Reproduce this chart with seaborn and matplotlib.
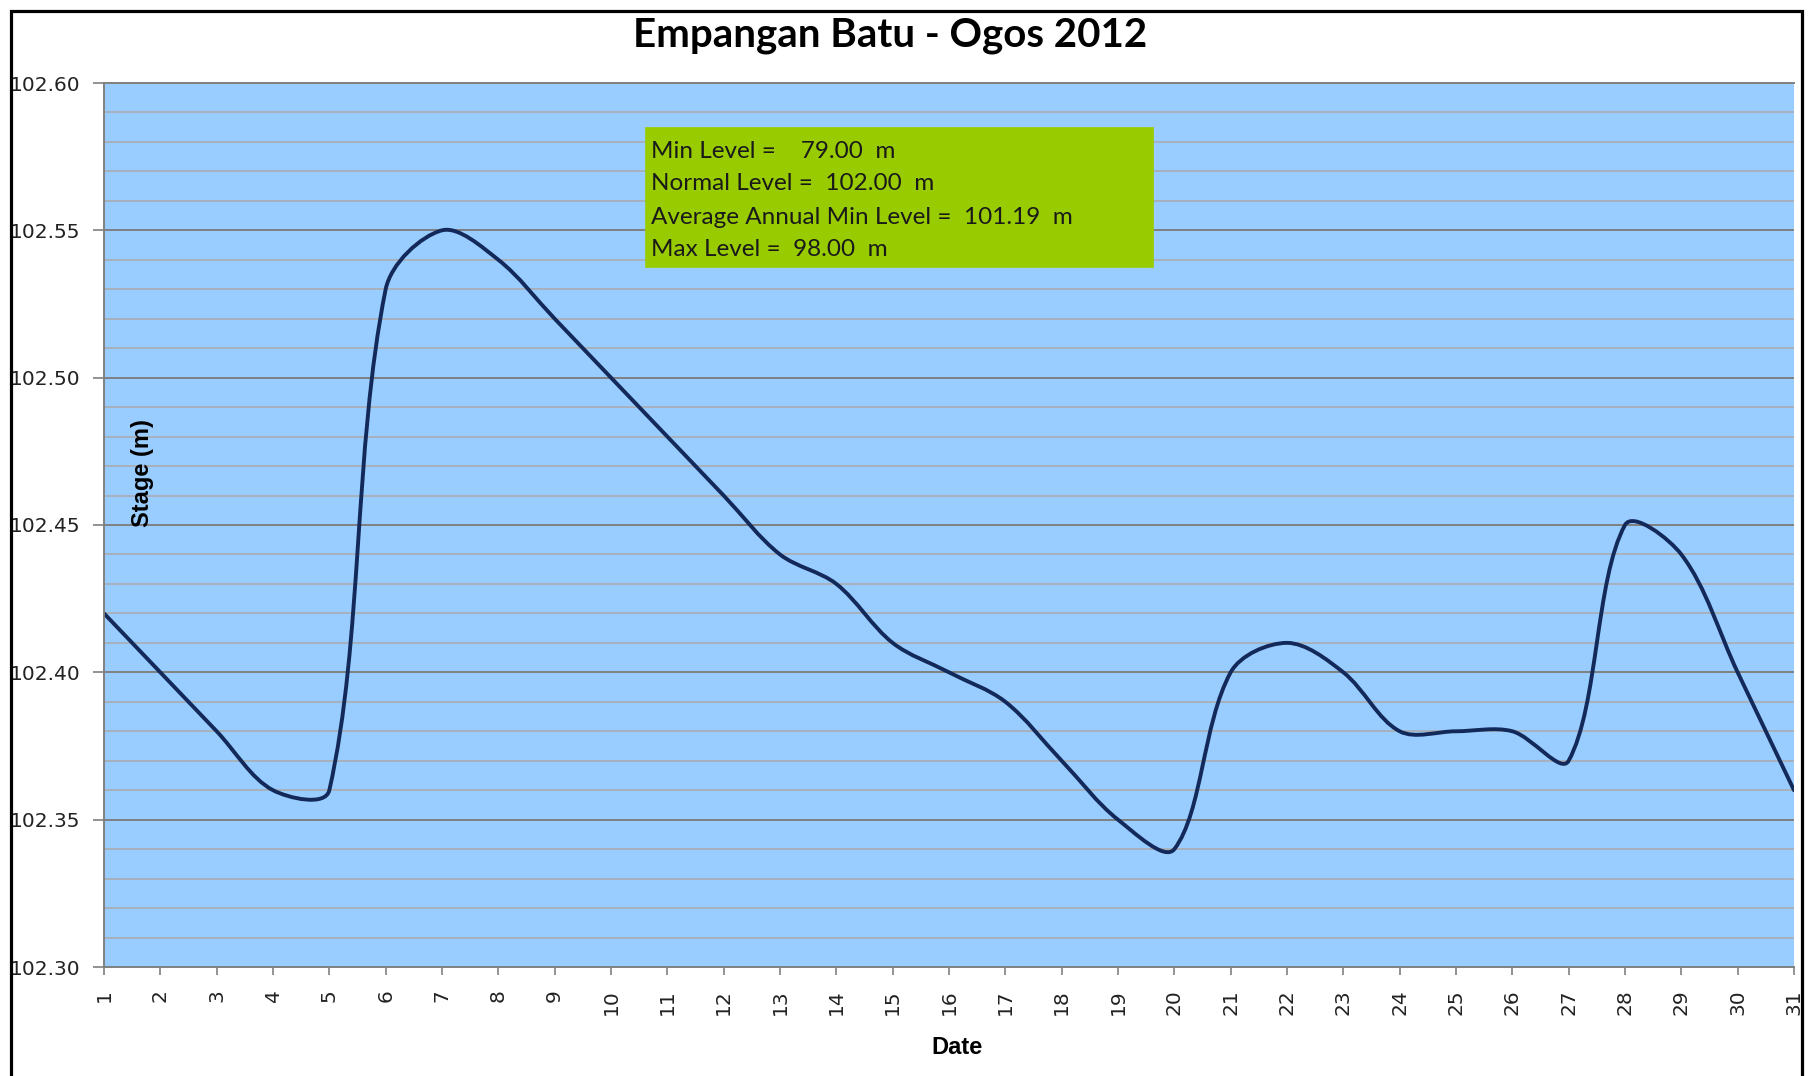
import numpy as np
import matplotlib
matplotlib.use("Agg")
import matplotlib.pyplot as plt
from matplotlib.path import Path
from matplotlib.patches import PathPatch, Rectangle
import seaborn as sns

# data
days = list(range(1, 32))
stage = [102.42, 102.40, 102.38, 102.36, 102.36, 102.53, 102.55, 102.54, 102.52, 102.50,
         102.48, 102.46, 102.44, 102.43, 102.41, 102.40, 102.39, 102.37, 102.35, 102.34,
         102.40, 102.41, 102.40, 102.38, 102.38, 102.38, 102.37, 102.45, 102.44, 102.40,
         102.36]
y_ticks = [102.30, 102.35, 102.40, 102.45, 102.50, 102.55, 102.60]
y_minor = [round(102.30 + 0.01 * i, 2) for i in range(31)]
info_lines = ["Min Level =    79.00  m",
              "Normal Level =  102.00  m",
              "Average Annual Min Level =  101.19  m",
              "Max Level =  98.00  m"]
title = "Empangan Batu - Ogos 2012"

sns.set_theme(style="white")
plt.rcParams['font.family'] = ['DejaVu Sans']

W, H = 1816, 1076
fig = plt.figure(figsize=(W / 100, H / 100), dpi=100)
fig.patch.set_facecolor('white')
ax = fig.add_axes([104 / W, 1 - 967 / H, 1690 / W, 884 / H])
ax.set_facecolor('#99CCFF')
ax.set_xlim(1, 31)
ax.set_ylim(102.30, 102.60)

ax.set_yticks(y_ticks)
ax.set_yticklabels(["%.2f" % v for v in y_ticks], fontsize=14.5, color='#222222')
ax.set_yticks(y_minor, minor=True)
ax.set_xticks(days)
ax.set_xticklabels([str(d) for d in days], rotation=90, fontsize=14.5, color='#222222')
ax.tick_params(axis='y', which='major', length=8, width=1.2, color='#808080', pad=9, left=True)
ax.tick_params(axis='y', which='minor', length=0)
ax.tick_params(axis='x', which='major', length=6, width=1.2, color='#808080', pad=10, bottom=True)

ax.grid(which='major', axis='y', color='#7f7f7f', lw=1.4)
ax.grid(which='minor', axis='y', color='#aaaaaa', lw=1.1)
ax.grid(which='major', axis='x', visible=False)
ax.set_axisbelow(True)

sns.despine(ax=ax, right=True, top=False)
for s in ['left', 'bottom', 'top']:
    ax.spines[s].set_color('#808080')
    ax.spines[s].set_linewidth(1.4)

# smoothed curve (bezier through the points, like excel's smoothed line)
pts = ax.transData.transform(np.column_stack([days, stage]))
n = len(pts)
out_t = np.zeros_like(pts)
in_t = np.zeros_like(pts)
for i in range(n):
    if i == 0:
        out_t[i] = (pts[1] - pts[0]) / 3
    elif i == n - 1:
        in_t[i] = (pts[i] - pts[i - 1]) / 3
    else:
        T = pts[i + 1] - pts[i - 1]
        d0 = np.linalg.norm(pts[i] - pts[i - 1])
        d1 = np.linalg.norm(pts[i + 1] - pts[i])
        out_t[i] = T * d1 / (d0 + d1) / 3
        in_t[i] = T * d0 / (d0 + d1) / 3
verts = [pts[0]]
codes = [Path.MOVETO]
for i in range(n - 1):
    verts += [pts[i] + out_t[i], pts[i + 1] - in_t[i + 1], pts[i + 1]]
    codes += [Path.CURVE4] * 3
verts = ax.transData.inverted().transform(np.array(verts))
ax.add_patch(PathPatch(Path(verts, codes), fill=False, edgecolor='#12295a', lw=2.8,
                       capstyle='round', joinstyle='round', clip_on=True))

# labels
fig.text(890 / W, 1 - 47 / H, title, ha='center', va='baseline', fontsize=29,
         fontweight='bold', family='Lato', color='black')
fig.text(143 / W, 1 - 473 / H, "Stage (m)", rotation=90, ha='center', va='center',
         fontsize=17, fontweight='bold', family='Liberation Sans', color='black')
fig.text(957 / W, 1 - 1048 / H, "Date", ha='center', va='center',
         fontsize=17, fontweight='bold', family='Liberation Sans', color='black')

# info box
fig.add_artist(Rectangle((645 / W, 1 - 267 / H), 508 / W, 140 / H, transform=fig.transFigure,
                         facecolor='#99CC00', edgecolor='#99CC00', lw=0.5, zorder=5))
for k, line in enumerate(info_lines):
    fig.text(651 / W, 1 - (151 + 33 * k) / H, line, ha='left', va='center', fontsize=17.5,
             family='Lato', color='#1a1a1a', zorder=6)

# outer frame
fig.add_artist(Rectangle((11 / W, -0.02), 1791 / W, 1 - 11 / H + 0.02, transform=fig.transFigure,
                         fill=False, edgecolor='black', lw=2.3, zorder=10))

fig.savefig("out.png", dpi=100)
